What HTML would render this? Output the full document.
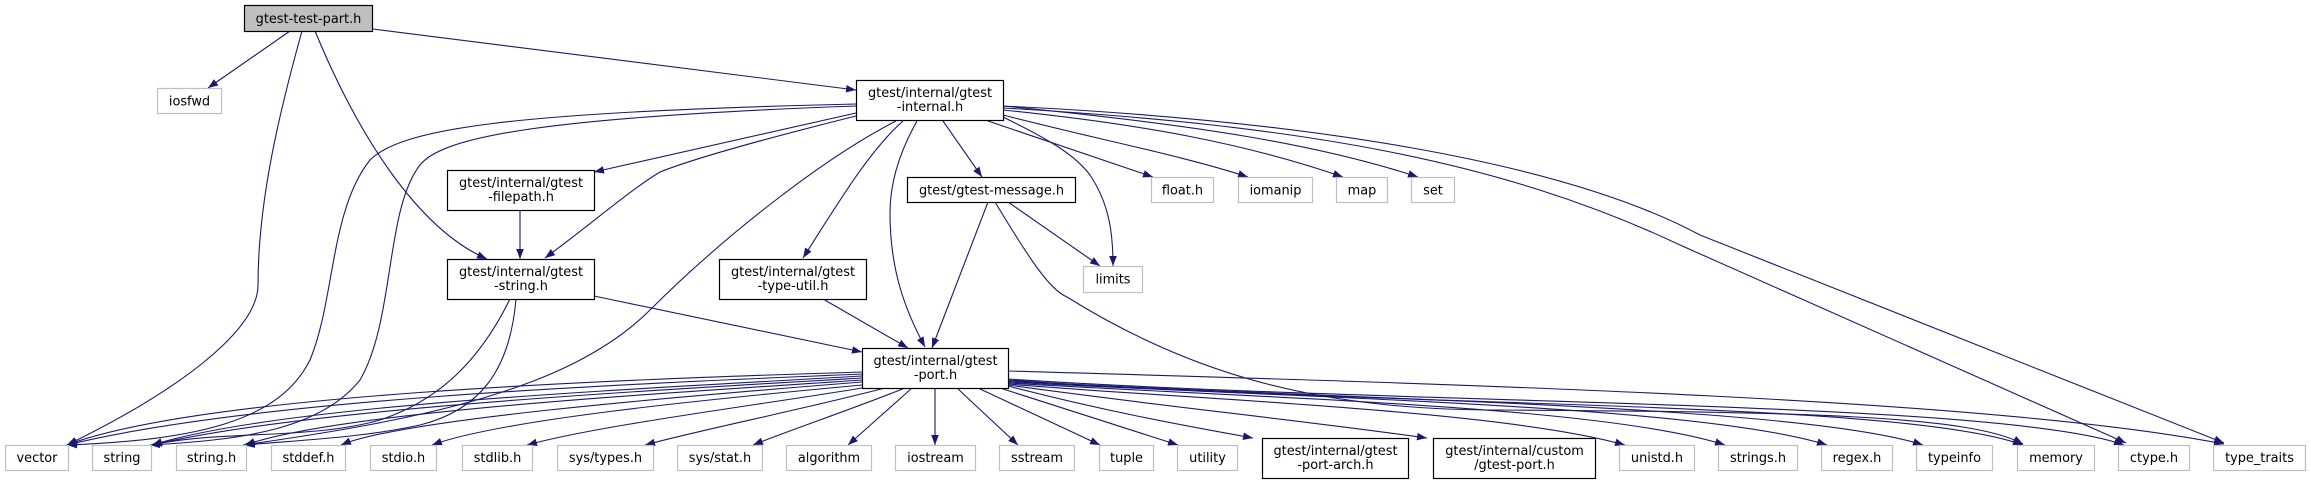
<!DOCTYPE html>
<html><head><meta charset="utf-8"><style>
html,body{margin:0;padding:0;background:#fff;}
svg{display:block;}
text{font-family:"DejaVu Sans","Liberation Sans",sans-serif;font-size:12.9px;fill:#000;text-anchor:middle;}
.e{fill:none;stroke:#191970;stroke-width:1.1;marker-end:url(#a);}
.b{fill:#fff;stroke:#000;stroke-width:1.2;}
.g{fill:#fff;stroke:#bfbfbf;stroke-width:1.2;}
</style></head><body>
<svg width="2311" height="484" viewBox="0 0 2311 484" xmlns="http://www.w3.org/2000/svg">
<defs><marker id="a" markerUnits="userSpaceOnUse" markerWidth="11" markerHeight="8" refX="10" refY="3.8" orient="auto"><path d="M0,0 L10,3.8 L0,7.6 z" fill="#191970"/></marker></defs>

<!-- edges from gtest-test-part.h -->
<path class="e" d="M290,31 L208,88"/>
<path class="e" d="M302,31 C280,110 258,200 258,285 C258,330 180,390 67,445"/>
<path class="e" d="M315,31 C360,140 420,230 487,259"/>
<path class="e" d="M373,29 L856,90"/>

<!-- edges from gtest-internal.h -->
<path class="e" d="M856,104 C500,112 400,130 370,160 C330,210 335,300 310,360 C280,420 200,440 67,445"/>
<path class="e" d="M856,106 C520,118 440,140 420,165 C385,210 395,320 360,380 C320,430 240,440 150,445"/>
<path class="e" d="M856,113 L594,172"/>
<path class="e" d="M856,116 C760,140 690,160 660,172 C630,190 590,225 545,258"/>
<path class="e" d="M896,121 C820,160 720,240 650,310 C570,390 420,420 243,445"/>
<path class="e" d="M903,121 C870,150 840,200 803,258"/>
<path class="e" d="M917,121 C895,160 890,190 890,213 C890,270 905,310 925,347"/>
<path class="e" d="M943,121 L982,177"/>
<path class="e" d="M1003,117 C1050,140 1075,155 1090,175 C1110,205 1113,235 1113,266"/>
<path class="e" d="M988,121 L1153,177"/>
<path class="e" d="M1003,115 C1100,140 1180,155 1248,177"/>
<path class="e" d="M1003,110 C1150,125 1250,145 1343,177"/>
<path class="e" d="M1003,106 C1200,125 1320,145 1418,177"/>
<path class="e" d="M1003,106 C1300,120 1560,160 1700,235 L2224,443"/>
<path class="e" d="M1003,108 C1300,125 1500,160 1680,245 L2126,443"/>

<!-- filepath -> string -->
<path class="e" d="M520,210 L520,259"/>

<!-- gtest-string -->
<path class="e" d="M594,296 L862,352"/>
<path class="e" d="M510,299 C480,360 440,400 380,420 C310,440 220,430 152,445"/>
<path class="e" d="M516,299 C510,370 480,410 420,425 C360,438 300,440 245,445"/>

<!-- type-util -> port -->
<path class="e" d="M823,299 L908,348"/>

<!-- message -->
<path class="e" d="M988,202 L932,348"/>
<path class="e" d="M1008,202 L1100,266"/>
<path class="e" d="M995,202 C1030,260 1050,290 1067,297 C1200,380 1330,410 1500,410 C1800,412 1970,415 2023,444"/>

<!-- port.h left side -->
<path class="e" d="M862,372 C600,380 200,395 67,445"/>
<path class="e" d="M862,374 C600,385 250,400 67,445"/>
<path class="e" d="M862,376 C620,390 280,405 152,445"/>
<path class="e" d="M862,378 C620,392 300,410 152,445"/>
<path class="e" d="M862,380 C640,395 340,412 245,445"/>
<path class="e" d="M862,382 C660,398 400,420 341,445"/>
<path class="e" d="M862,385 C700,400 500,420 432,445"/>
<path class="e" d="M862,388 C760,405 600,425 527,445"/>
<path class="e" d="M885,388 C800,410 700,430 645,445"/>
<path class="e" d="M905,388 C850,410 790,430 753,445"/>
<path class="e" d="M912,388 L848,445"/>
<path class="e" d="M935,388 L935,445"/>
<path class="e" d="M957,388 L1018,445"/>
<path class="e" d="M978,388 L1100,445"/>
<path class="e" d="M1000,388 L1178,445"/>
<!-- port.h right side -->
<path class="e" d="M1008,386 C1100,410 1180,425 1253,438"/>
<path class="e" d="M1008,385 C1150,405 1300,420 1427,438"/>
<path class="e" d="M1008,384 C1200,400 1500,410 1625,445"/>
<path class="e" d="M1008,383 C1250,398 1600,405 1725,445"/>
<path class="e" d="M1008,382 C1300,398 1700,405 1827,445"/>
<path class="e" d="M1008,381 C1350,400 1800,405 1923,445"/>
<path class="e" d="M1008,380 C1400,408 1900,400 2023,445"/>
<path class="e" d="M1008,379 C1400,405 2000,400 2124,445"/>
<path class="e" d="M1008,371 C1500,385 2000,400 2224,444"/>

<!-- nodes -->
<rect x="244.5" y="5.5" width="128" height="26" fill="#bfbfbf" stroke="#000" stroke-width="1.2"/>
<text x="308.5" y="23">gtest-test-part.h</text>

<rect class="g" x="157.5" y="88.5" width="64" height="25"/><text x="189.5" y="105.5">iosfwd</text>

<rect class="b" x="856.5" y="80.5" width="147" height="40"/>
<text x="930" y="97">gtest/internal/gtest</text><text x="930" y="111">-internal.h</text>

<rect class="b" x="447.5" y="170.5" width="147" height="40"/>
<text x="521" y="187">gtest/internal/gtest</text><text x="521" y="201">-filepath.h</text>

<rect class="b" x="447.5" y="259.5" width="147" height="40"/>
<text x="521" y="276">gtest/internal/gtest</text><text x="521" y="290">-string.h</text>

<rect class="b" x="719.5" y="259.5" width="147" height="40"/>
<text x="793" y="276">gtest/internal/gtest</text><text x="793" y="290">-type-util.h</text>

<rect class="b" x="907.5" y="177.5" width="168" height="25"/><text x="991.5" y="194.5">gtest/gtest-message.h</text>

<rect class="g" x="1083.5" y="266.5" width="59" height="26"/><text x="1113" y="283.5">limits</text>
<rect class="g" x="1151.5" y="177.5" width="62" height="25"/><text x="1182.5" y="194.5">float.h</text>
<rect class="g" x="1238.5" y="177.5" width="74" height="25"/><text x="1275.5" y="194.5">iomanip</text>
<rect class="g" x="1336.5" y="177.5" width="51" height="25"/><text x="1362" y="194.5">map</text>
<rect class="g" x="1411.5" y="177.5" width="43" height="25"/><text x="1433" y="194.5">set</text>

<rect class="b" x="862.5" y="348.5" width="146" height="40"/>
<text x="935.5" y="365">gtest/internal/gtest</text><text x="935.5" y="379">-port.h</text>

<rect class="g" x="5.5" y="445.5" width="63" height="25"/><text x="37" y="462">vector</text>
<rect class="g" x="92.5" y="445.5" width="59" height="25"/><text x="122" y="462">string</text>
<rect class="g" x="176.5" y="445.5" width="70" height="25"/><text x="211.5" y="462">string.h</text>
<rect class="g" x="271.5" y="445.5" width="74" height="25"/><text x="308.5" y="462">stddef.h</text>
<rect class="g" x="370.5" y="445.5" width="66" height="25"/><text x="403.5" y="462">stdio.h</text>
<rect class="g" x="462.5" y="445.5" width="70" height="25"/><text x="497.5" y="462">stdlib.h</text>
<rect class="g" x="557.5" y="445.5" width="96" height="25"/><text x="605.5" y="462">sys/types.h</text>
<rect class="g" x="677.5" y="445.5" width="85" height="25"/><text x="720" y="462">sys/stat.h</text>
<rect class="g" x="786.5" y="445.5" width="85" height="25"/><text x="829" y="462">algorithm</text>
<rect class="g" x="895.5" y="445.5" width="80" height="25"/><text x="935.5" y="462">iostream</text>
<rect class="g" x="999.5" y="445.5" width="75" height="25"/><text x="1037" y="462">sstream</text>
<rect class="g" x="1099.5" y="445.5" width="54" height="25"/><text x="1126.5" y="462">tuple</text>
<rect class="g" x="1177.5" y="445.5" width="60" height="25"/><text x="1207.5" y="462">utility</text>
<rect class="b" x="1262.5" y="438.5" width="146" height="40"/>
<text x="1335.5" y="455">gtest/internal/gtest</text><text x="1335.5" y="469">-port-arch.h</text>
<rect class="b" x="1433.5" y="438.5" width="162" height="40"/>
<text x="1514.5" y="455">gtest/internal/custom</text><text x="1514.5" y="469">/gtest-port.h</text>
<rect class="g" x="1619.5" y="445.5" width="75" height="25"/><text x="1657" y="462">unistd.h</text>
<rect class="g" x="1718.5" y="445.5" width="79" height="25"/><text x="1758" y="462">strings.h</text>
<rect class="g" x="1821.5" y="445.5" width="71" height="25"/><text x="1857" y="462">regex.h</text>
<rect class="g" x="1916.5" y="445.5" width="76" height="25"/><text x="1954.5" y="462">typeinfo</text>
<rect class="g" x="2017.5" y="445.5" width="77" height="25"/><text x="2056" y="462">memory</text>
<rect class="g" x="2118.5" y="445.5" width="71" height="25"/><text x="2154" y="462">ctype.h</text>
<rect class="g" x="2213.5" y="445.5" width="92" height="25"/><text x="2259.5" y="462">type_traits</text>
</svg>
</body></html>
